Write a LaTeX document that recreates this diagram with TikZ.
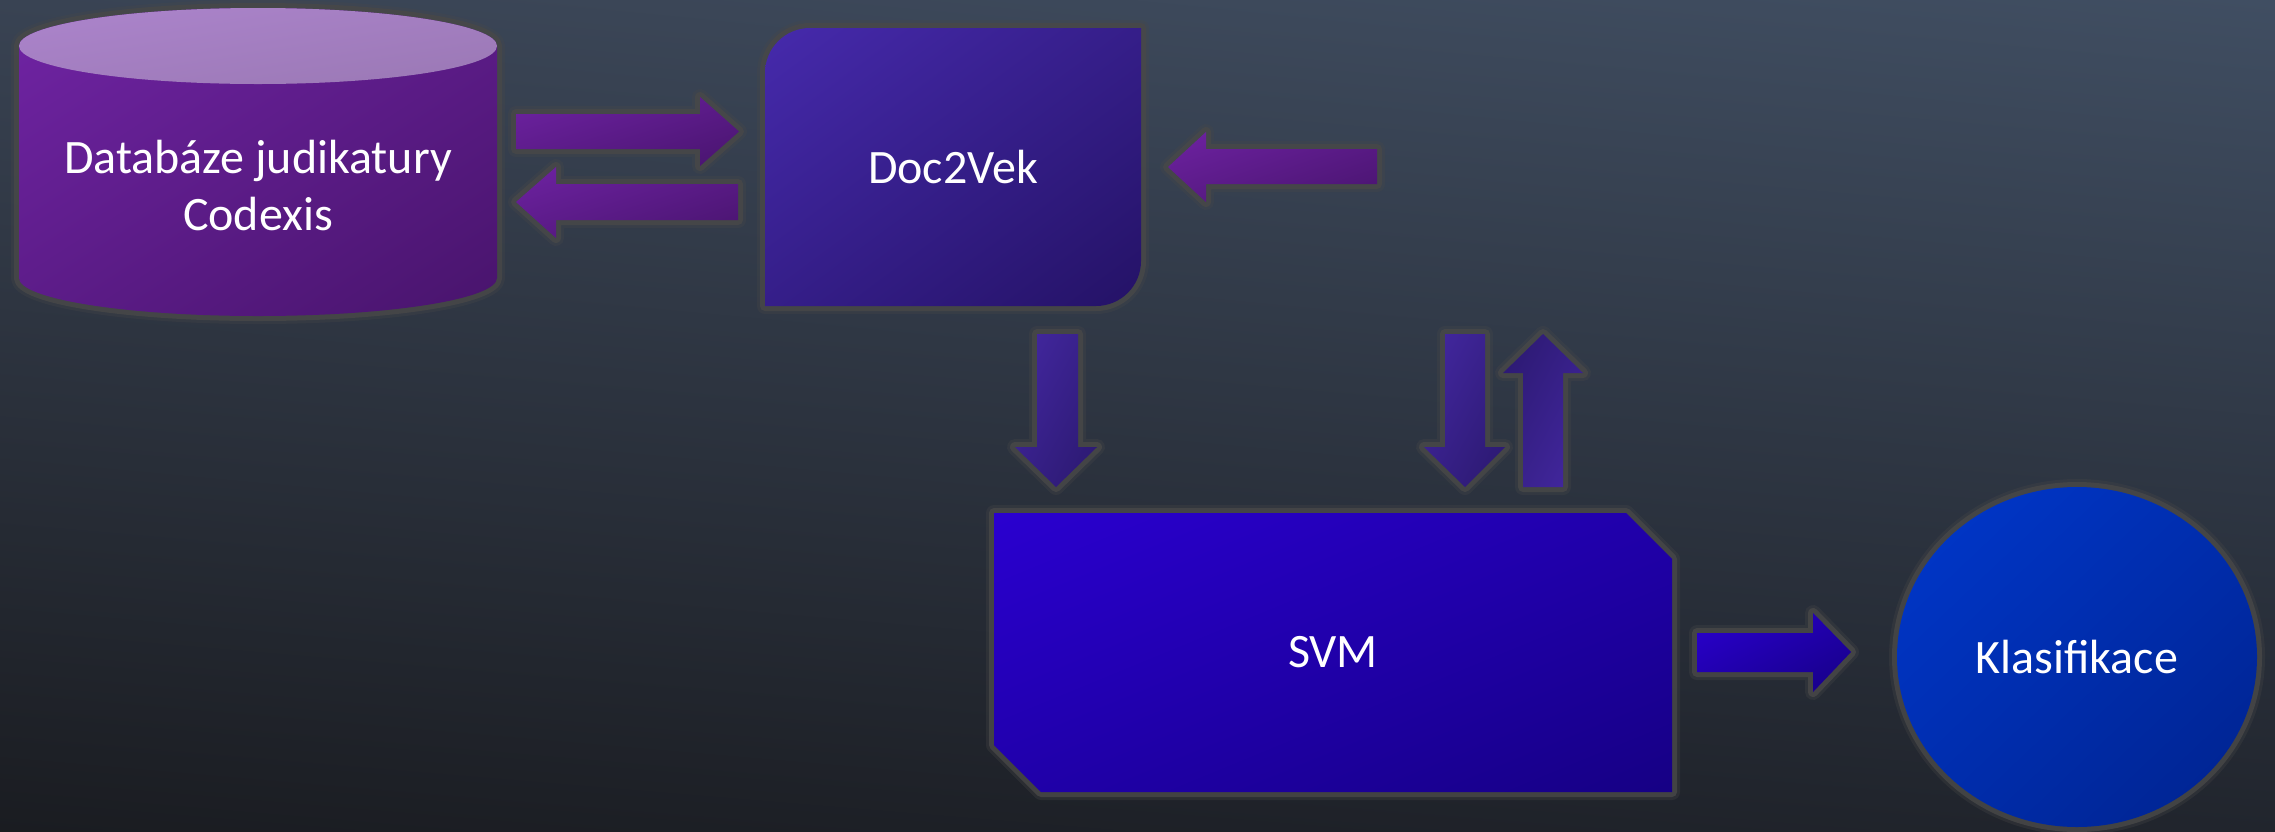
\documentclass[tikz,border=0pt]{standalone}
\usepackage{fontspec}
\usetikzlibrary{shadings}
\setmainfont{Carlito}
\definecolor{haloc}{RGB}{72,72,72}
\definecolor{bgUL}{RGB}{57,67,83}
\definecolor{bgUR}{RGB}{64,78,98}
\definecolor{bgLL}{RGB}{26,28,33}
\definecolor{bgLR}{RGB}{33,37,45}
\definecolor{cylA}{RGB}{112,36,164}
\definecolor{cylB}{RGB}{72,20,108}
\definecolor{topA}{RGB}{172,132,204}
\definecolor{topB}{RGB}{154,120,180}
\definecolor{purA}{RGB}{110,34,162}
\definecolor{purB}{RGB}{72,20,110}
\definecolor{docA}{RGB}{70,42,172}
\definecolor{docB}{RGB}{36,18,102}
\definecolor{dnA}{RGB}{68,40,162}
\definecolor{dnB}{RGB}{42,24,110}
\definecolor{svmA}{RGB}{42,0,208}
\definecolor{svmB}{RGB}{22,0,132}
\definecolor{klA}{RGB}{0,56,206}
\definecolor{klB}{RGB}{0,34,140}
\newcommand\glowshape[3]{%
  \path[halo] #1;
  \path[halotwo] #1;
  \shade[grad={#2}{#3}] #1;}
\begin{document}
\begin{tikzpicture}[x=1pt,y=-1pt,
  halo/.style={draw=haloc, line width=16pt, draw opacity=0.3, line join=round},
  halotwo/.style={draw=haloc, line width=10pt, draw opacity=0.8, line join=round},
  grad/.style 2 args={upper left=#1, lower right=#2, upper right=#1!50!#2, lower left=#1!50!#2},
  lbl/.style={text=white, font=\fontsize{48}{57}\selectfont, align=center, inner sep=0pt}]
\useasboundingbox (0,0) rectangle (2275,831);
\shade[upper left=bgUL, upper right=bgUR, lower left=bgLL, lower right=bgLR] (0,0) rectangle (2275,831);

% cylinder
\glowshape{(19,46) -- (19,278) arc[start angle=180,end angle=360,x radius=239pt,y radius=38pt] -- (497,46) arc[start angle=0,end angle=180,x radius=239pt,y radius=38pt] -- cycle}{cylA}{cylB}
\shade[grad={topA}{topB}] (258,46) ellipse [x radius=239pt, y radius=38pt];
\node[lbl] (db) at (258,186) {Databáze judikatury\\Codexis};

% Doc2Vek
\glowshape{(765,306) -- (765,73) arc[start angle=180,end angle=90,radius=45pt] -- (1141,28) -- (1141,261) arc[start angle=0,end angle=-90,radius=45pt] -- cycle}{docA}{docB}
\node[lbl] (doc) at (953,167) {Doc2Vek};

% SVM
\glowshape{(994,513) -- (1626,513) -- (1672,559) -- (1672,792) -- (1041,792) -- (994,745) -- cycle}{svmA}{svmB}
\node[lbl] (svm) at (1333,652) {SVM};

% Klasifikace
\glowshape{(2077,657) ellipse [x radius=180pt, y radius=170pt]}{klA}{klB}
\node[lbl] (klas) at (2077,657) {Klasifikace};

% arrows
\glowshape{(516,114) -- (700,114) -- (700,97) -- (739,131.5) -- (700,166) -- (700,149) -- (516,149) -- cycle}{purA}{purB}
\glowshape{(738,184) -- (556,184) -- (556,167) -- (516,202) -- (556,238) -- (556,220) -- (738,220) -- cycle}{purA}{purB}
\glowshape{(1377,149) -- (1206,149) -- (1206,132) -- (1168,167) -- (1206,202) -- (1206,184) -- (1377,184) -- cycle}{purA}{purB}
\glowshape{(1037,334) -- (1078,334) -- (1078,447) -- (1097,447) -- (1056,487) -- (1015,447) -- (1037,447) -- cycle}{dnA}{dnB}
\glowshape{(1445,334) -- (1485,334) -- (1485,447) -- (1505,447) -- (1465,487) -- (1424,447) -- (1445,447) -- cycle}{dnA}{dnB}
\glowshape{(1523,487) -- (1563,487) -- (1563,373) -- (1583,373) -- (1543,334) -- (1503,373) -- (1523,373) -- cycle}{dnB}{dnA}
\glowshape{(1697,633) -- (1813,633) -- (1813,613) -- (1851,652) -- (1813,692) -- (1813,672) -- (1697,672) -- cycle}{svmA}{svmB}
\end{tikzpicture}
\end{document}
